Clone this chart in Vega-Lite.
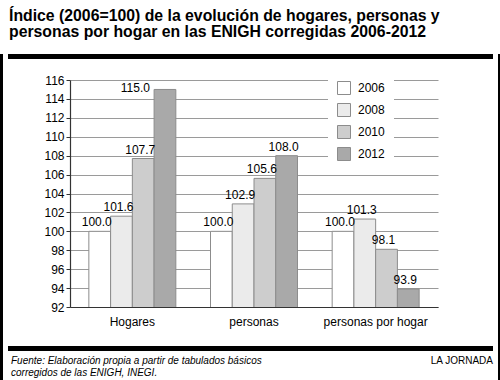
{
  "$schema": "https://vega.github.io/schema/vega-lite/v6.json",
  "background": "white",
  "padding": {"left": 0, "right": 0, "top": 7, "bottom": 0},
  "config": {
    "view": {"stroke": null},
    "font": "Liberation Sans"
  },
  "spacing": 5,
  "resolve": {"legend": {"color": "independent"}},
  "hconcat": [
    {
      "width": 3,
      "height": 373,
      "data": {"values": []},
      "mark": "rect",
      "encoding": {},
      "view": {"fill": "black", "stroke": null}
    },
    {
      "title": {
        "text": ["Índice (2006=100) de la evolución de hogares, personas y", "personas por hogar en las ENIGH corregidas 2006-2012"],
        "anchor": "start",
        "font": "Liberation Sans",
        "fontSize": 15.8,
        "fontWeight": "bold",
        "color": "black",
        "lineHeight": 16.5,
        "offset": 13,
        "dx": 1
      },
      "spacing": 13,
      "resolve": {"legend": {"color": "independent"}},
      "vconcat": [
        {
          "width": 485,
          "height": 5,
          "data": {"values": []},
          "mark": "rect",
          "encoding": {},
          "view": {"fill": "black", "stroke": null}
        },
        {
          "spacing": 0,
          "resolve": {"legend": {"color": "independent"}},
          "hconcat": [
            {
              "width": 35,
              "height": 10,
              "data": {"values": []},
              "mark": "rect",
              "encoding": {},
              "view": {"stroke": null}
            },
            {
              "width": 368,
              "height": 227,
              "data": {
                "values": [
                  {"cat": "Hogares", "year": "2006", "value": 100.0},
                  {"cat": "Hogares", "year": "2008", "value": 101.6},
                  {"cat": "Hogares", "year": "2010", "value": 107.7},
                  {"cat": "Hogares", "year": "2012", "value": 115.0},
                  {"cat": "personas", "year": "2006", "value": 100.0},
                  {"cat": "personas", "year": "2008", "value": 102.9},
                  {"cat": "personas", "year": "2010", "value": 105.6},
                  {"cat": "personas", "year": "2012", "value": 108.0},
                  {"cat": "personas por hogar", "year": "2006", "value": 100.0},
                  {"cat": "personas por hogar", "year": "2008", "value": 101.3},
                  {"cat": "personas por hogar", "year": "2010", "value": 98.1},
                  {"cat": "personas por hogar", "year": "2012", "value": 93.9}
                ]
              },
              "encoding": {
                "x": {
                  "field": "cat",
                  "type": "nominal",
                  "sort": ["Hogares", "personas", "personas por hogar"],
                  "scale": {"paddingInner": 0.285, "paddingOuter": 0.155},
                  "axis": {
                    "title": " ",
                    "titleFontSize": 4,
                    "titlePadding": 2,
                    "labelAngle": 0,
                    "labelFontSize": 12,
                    "labelColor": "black",
                    "ticks": false,
                    "tickSize": 0,
                    "labelPadding": 9,
                    "domainColor": "#333333",
                    "domainWidth": 1.2,
                    "grid": false
                  }
                },
                "xOffset": {"field": "year", "type": "nominal", "sort": ["2006", "2008", "2010", "2012"]},
                "y": {
                  "field": "value",
                  "type": "quantitative",
                  "scale": {"domain": [92, 116], "zero": false, "nice": false},
                  "axis": {
                    "title": null,
                    "values": [92, 94, 96, 98, 100, 102, 104, 106, 108, 110, 112, 114, 116],
                    "labelFontSize": 12,
                    "labelColor": "black",
                    "tickSize": 4,
                    "tickColor": "#333333",
                    "labelPadding": 2,
                    "domainColor": "#333333",
                    "domainWidth": 1.2,
                    "gridColor": "#9a9a9a",
                    "gridWidth": 1
                  }
                }
              },
              "layer": [
                {
                  "mark": {"type": "bar", "stroke": "#8c8c8c", "strokeWidth": 1, "clip": true},
                  "encoding": {
                    "color": {
                      "field": "year",
                      "type": "nominal",
                      "scale": {"domain": ["2006", "2008", "2010", "2012"], "range": ["#ffffff", "#ebebeb", "#cdcdcd", "#a9a9a9"]},
                      "legend": {
                        "title": null,
                        "orient": "none",
                        "legendX": 258,
                        "legendY": -8,
                        "fillColor": "white",
                        "padding": 9,
                        "symbolType": "square",
                        "symbolSize": 169,
                        "symbolStrokeColor": "#8c8c8c",
                        "symbolStrokeWidth": 1,
                        "labelFontSize": 12,
                        "labelColor": "black",
                        "labelOffset": 7,
                        "rowPadding": 4
                      }
                    }
                  }
                },
                {
                  "transform": [{"filter": "datum.value < 112"}],
                  "mark": {"type": "text", "dx": -3, "dy": -5, "baseline": "alphabetic", "fontSize": 12, "color": "black"},
                  "encoding": {"text": {"field": "value", "type": "quantitative", "format": ".1f"}}
                },
                {
                  "transform": [{"filter": "datum.value >= 112"}],
                  "mark": {"type": "text", "align": "right", "dx": -15, "dy": -1, "baseline": "middle", "fontSize": 12, "color": "black"},
                  "encoding": {"text": {"field": "value", "type": "quantitative", "format": ".1f"}}
                }
              ]
            }
          ]
        },
        {
          "spacing": 0,
          "hconcat": [
            {
              "width": 300,
              "height": 5,
              "data": {"values": []},
              "mark": "rect",
              "encoding": {},
              "view": {"fill": "black", "stroke": null},
              "title": {
                "text": ["Fuente: Elaboración propia a partir de tabulados básicos", "corregidos de las ENIGH, INEGI."],
                "orient": "bottom",
                "anchor": "start",
                "fontSize": 10,
                "fontStyle": "italic",
                "fontWeight": "normal",
                "color": "black",
                "lineHeight": 11.5,
                "offset": 5,
                "dx": 3
              }
            },
            {
              "width": 185,
              "height": 5,
              "data": {"values": []},
              "mark": "rect",
              "encoding": {},
              "view": {"fill": "black", "stroke": null},
              "title": {
                "text": "LA JORNADA",
                "orient": "bottom",
                "anchor": "end",
                "fontSize": 10,
                "fontWeight": "normal",
                "color": "black",
                "offset": 5
              }
            }
          ]
        }
      ]
    },
    {
      "width": 2,
      "height": 373,
      "data": {"values": []},
      "mark": "rect",
      "encoding": {},
      "view": {"fill": "black", "stroke": null}
    }
  ]
}
